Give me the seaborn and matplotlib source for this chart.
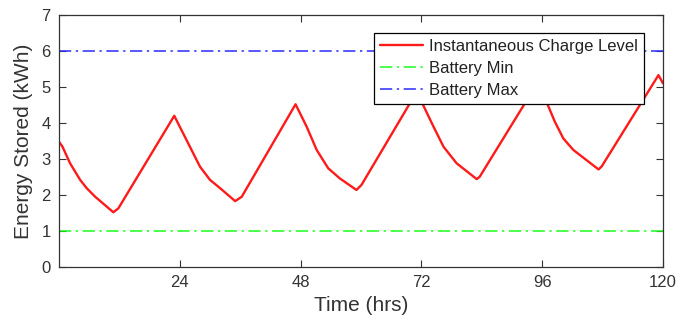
import matplotlib
matplotlib.use("Agg")
import matplotlib.pyplot as plt
import seaborn as sns
import pandas as pd

# Battery state of charge over five days (hours, kWh)
time_hrs = [0, 0.7, 2.2, 4.2, 5.5, 7.2, 10.8, 11.8, 22.9,
            25.0, 28.0, 30.0, 32.0, 35.0, 36.3, 47.0,
            49.2, 51.2, 53.5, 55.8, 59.1, 60.1, 71.0,
            72.1, 74.4, 76.4, 79.0, 83.0, 83.6, 95.0,
            96.9, 98.5, 100.2, 102.2, 107.2, 107.8, 119.1, 120]
charge_kwh = [3.48, 3.34, 2.88, 2.42, 2.19, 1.95, 1.52, 1.63, 4.20,
              3.62, 2.79, 2.42, 2.19, 1.83, 1.95, 4.52,
              3.90, 3.25, 2.74, 2.46, 2.14, 2.28, 4.85,
              4.57, 3.90, 3.34, 2.88, 2.44, 2.51, 5.10,
              4.57, 4.04, 3.57, 3.25, 2.71, 2.79, 5.33, 5.10]

battery_min = 1.0
battery_max = 6.0
time_span = [0, 120]

x_ticks = [24, 48, 72, 96, 120]
y_ticks = [0, 1, 2, 3, 4, 5, 6, 7]

sns.set_style("white")
plt.rcParams["font.family"] = ["Liberation Sans", "DejaVu Sans"]

ink = "#333333"

fig = plt.figure(figsize=(6.8, 3.29), dpi=100)
ax = fig.add_axes([59 / 680, 62 / 329, 604 / 680, 252 / 329])

charge = pd.DataFrame({"t": time_hrs, "e": charge_kwh})
limits = pd.DataFrame({"t": time_span,
                       "lo": [battery_min] * 2,
                       "hi": [battery_max] * 2})

sns.lineplot(data=charge, x="t", y="e", ax=ax, color="#ff1a1a",
             linewidth=1.7, label="Instantaneous Charge Level", sort=False)
sns.lineplot(data=limits, x="t", y="lo", ax=ax, color="#1aff1a",
             linewidth=1.1, linestyle=(0, (8, 3, 1.5, 3)), label="Battery Min")
sns.lineplot(data=limits, x="t", y="hi", ax=ax, color="#2a2aff",
             linewidth=1.1, linestyle=(0, (8, 3, 1.5, 3)), label="Battery Max")

ax.set_xlim(0, 120)
ax.set_ylim(0, 7)
ax.set_xticks(x_ticks)
ax.set_yticks(y_ticks)
ax.set_xlabel("Time (hrs)", fontsize=15, color=ink, labelpad=4)
ax.set_ylabel("Energy Stored (kWh)", fontsize=15, color=ink, labelpad=6)

for side in ax.spines.values():
    side.set_visible(True)
    side.set_color(ink)
    side.set_linewidth(0.9)
ax.tick_params(axis="both", direction="in", length=5, width=0.8, color=ink,
               labelsize=12, labelcolor=ink, top=True, right=True,
               bottom=True, left=True, pad=6)

leg = ax.legend(loc="upper right", bbox_to_anchor=(0.9685, 0.9286),
                borderaxespad=0, fontsize=12, frameon=True, fancybox=False,
                framealpha=1, edgecolor="black", handlelength=2.6,
                handletextpad=0.35, labelspacing=0.42, borderpad=0.35)
leg.get_frame().set_linewidth(0.9)
for txt in leg.get_texts():
    txt.set_color("#222222")

fig.savefig("out.png", dpi=100)
